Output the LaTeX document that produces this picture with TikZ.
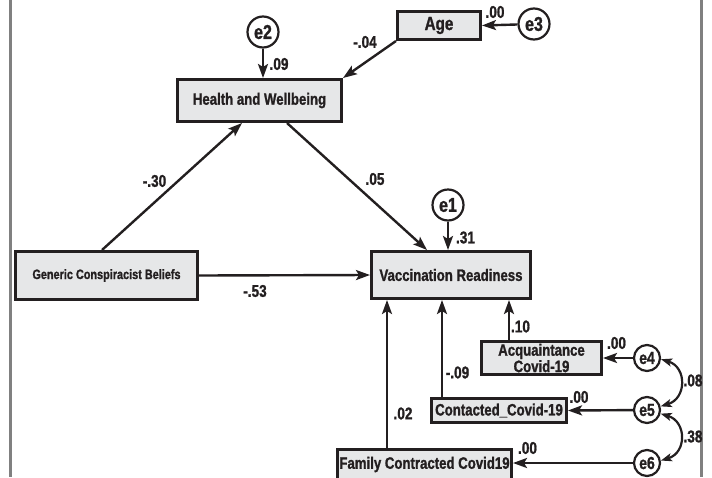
\documentclass[tikz,border=0pt]{standalone}
\usepackage{fontspec}
\setmainfont[FakeStretch=0.8, BoldFeatures={FakeStretch=0.8, FakeBold=1.2}]{Liberation Sans}
\usetikzlibrary{arrows.meta,calc}
\definecolor{boxfill}{HTML}{E6E7E8}
\definecolor{ink}{HTML}{231F20}
\definecolor{rulegray}{HTML}{808080}
\begin{document}
\begin{tikzpicture}[x=1pt,y=-1pt,
  box/.style={draw=ink, line width=3pt, fill=boxfill, inner sep=0pt, text=ink,
    font=\bfseries\fontsize{16.5}{15}\selectfont, align=center},
  errc/.style={circle, draw=ink, line width=2.2pt, fill=white, inner sep=0pt, text=ink,
    minimum size=#1},
  lab/.style={inner sep=0pt, text=ink, font=\bfseries\fontsize{17}{17}\selectfont},
  conn/.style={-{Stealth[length=14pt,width=10pt,inset=3pt]}, line width=2.4pt, draw=ink},
  cov/.style={{Stealth[length=11pt,width=8pt,inset=2.5pt]}-{Stealth[length=11pt,width=8pt,inset=2.5pt]}, line width=2.2pt, draw=ink},
  edge rule/.style={draw=rulegray, line width=2.4pt}
]
\useasboundingbox (0,0) rectangle (712,477);
% side rules
\coordinate (lt) at (10.5,0);
\coordinate (lb) at (10.5,477);
\coordinate (rt) at (701.5,0);
\coordinate (rb) at (701.5,477);
\draw[edge rule] (lt) -- (lb);
\draw[edge rule] (rt) -- (rb);

% boxes
\node[box, minimum width=164, minimum height=42] (hw) at (259.5,100.5) {Health and Wellbeing};
\node[box, minimum width=83, minimum height=28, font=\bfseries\fontsize{19}{19}\selectfont] (age) at (439,25.5) {Age};
\node[box, minimum width=182, minimum height=48, font=\bfseries\fontsize{13.6}{13.6}\selectfont] (gcb) at (106.5,275.5) {Generic Conspiracist Beliefs};
\node[box, minimum width=159, minimum height=47] (vr) at (451,275) {Vaccination Readiness};
\node[box, minimum width=120, minimum height=33] (acq) at (541.5,358) {Acquaintance\\Covid-19};
\node[box, minimum width=135, minimum height=24] (con) at (499,410.5) {Contacted\_Covid-19};
\node[box, minimum width=174, minimum height=30] (fam) at (424.5,464.5) {Family Contracted Covid19};

% error terms
\node[errc=31, font=\bfseries\fontsize{20}{20}\selectfont] (e2) at (263,32) {e2};
\node[errc=31, font=\bfseries\fontsize{20}{20}\selectfont] (e3) at (534,24) {e3};
\node[errc=31, font=\bfseries\fontsize{20}{20}\selectfont] (e1) at (448,205) {e1};
\node[errc=26, font=\bfseries\fontsize{17.5}{17.5}\selectfont] (e4) at (647,358) {e4};
\node[errc=26, font=\bfseries\fontsize{17.5}{17.5}\selectfont] (e5) at (647,410) {e5};
\node[errc=26, font=\bfseries\fontsize{17.5}{17.5}\selectfont] (e6) at (647,463) {e6};

% structural paths
\draw[conn] (e2) -- (e2 |- hw.north);
\draw[conn] (e3) -- (age.east);
\draw[conn] (age.south west) -- (hw.north east);
\draw[conn] ([xshift=-4.5pt]gcb.north) -- ([xshift=-17.5pt]hw.south);
\draw[conn] ([xshift=27.5pt]hw.south) -- ([xshift=-24pt]vr.north);
\draw[conn] (e1) -- (e1 |- vr.north);
\draw[conn] (gcb.east) -- (vr.west);
\draw[conn] ([xshift=-37.5pt]fam.north) -- ([xshift=-64pt]vr.south);
\draw[conn] ([xshift=-57pt]con.north) -- ([xshift=-9pt]vr.south);
\draw[conn] ([xshift=-32.5pt]acq.north) -- ([xshift=58pt]vr.south);
\draw[conn] (e4) -- (acq.east);
\draw[conn] (e5) -- (con.east);
\draw[conn] (e6) -- (e6 -| fam.east);

% covariances
\draw[cov] (e4.-5) .. controls +(26,8) and +(26,-8) .. (e5.15);
\draw[cov] (e5.-15) .. controls +(26,8) and +(26,-8) .. (e6.10);

% labels
\node[lab] (l09) at (279,64) {.09};
\node[lab] (l04) at (365,42) {-.04};
\node[lab] (l00a) at (495,12) {.00};
\node[lab] (l30) at (154.5,181) {-.30};
\node[lab] (l05) at (375,179) {.05};
\node[lab] (l31) at (465.5,237.5) {.31};
\node[lab] (l53) at (255,291) {-.53};
\node[lab] (l10) at (520.5,326.5) {.10};
\node[lab] (l09b) at (457.5,372.5) {-.09};
\node[lab] (l02) at (403,413.5) {.02};
\node[lab] (l00b) at (616.5,343) {.00};
\node[lab] (l00c) at (579,397) {.00};
\node[lab] (l00d) at (527.5,448) {.00};
\node[lab] (l08) at (693,380.5) {.08};
\node[lab] (l38) at (693,436.5) {.38};
\end{tikzpicture}
\end{document}
